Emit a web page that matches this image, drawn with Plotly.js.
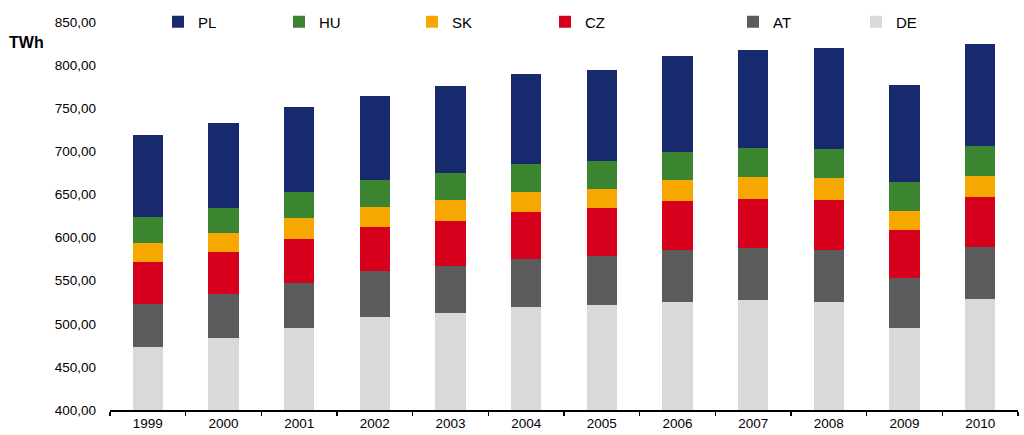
<!DOCTYPE html>
<html>
<head>
<meta charset="utf-8">
<script src="https://cdn.plot.ly/plotly-3.0.1.min.js"></script>
<style>html,body{margin:0;padding:0;background:#fff;}#chart{width:1024px;height:435px;}</style>
</head>
<body>
<div id="chart"></div>
<script>
var years = ["1999","2000","2001","2002","2003","2004","2005","2006","2007","2008","2009","2010"];
var DE = [473.4,483.4,494.7,508.2,512.8,519.4,521.3,525.5,527.1,525.5,495.4,528.3];
var AT = [49.4,50.7,52.5,53.3,54.4,55.9,57.2,59.9,60.6,59.6,57.6,60.9];
var CZ = [48.7,49.4,51.3,50.6,52.2,54.2,55.6,56.8,57.2,58.6,55.6,58.0];
var SK = [22.4,22.0,24.4,23.5,23.6,23.5,22.4,24.3,25.1,24.8,22.4,24.0];
var HU = [29.8,29.0,29.7,31.7,31.3,32.5,32.1,32.5,33.3,33.9,33.2,35.0];
var PL = [95.8,98.9,98.9,96.6,101.2,104.4,105.4,111.6,114.6,117.5,112.8,118.1];

var seriesNames = ["DE","AT","CZ","SK","HU","PL"];
var seriesData = [DE,AT,CZ,SK,HU,PL];
var colors = {PL:"#182a6e",HU:"#3b8530",SK:"#f7a800",CZ:"#d6001c",AT:"#5b5b5b",DE:"#d9d9d9"};
// legend symbol centre pixel positions
var legendPos = {PL:185,HU:306,SK:439,CZ:572,AT:760,DE:883};
var legendOrder = ["PL","HU","SK","CZ","AT","DE"];

var traces = seriesNames.map(function(n,i){
  var li = legendOrder.indexOf(n);
  return {
    type:"bar", name:n, x:years, y:seriesData[i],
    marker:{color:colors[n], line:{width:0}},
    legend: li===0 ? "legend" : "legend"+(li+1),
    hoverinfo:"x+y+name"
  };
});

var font = {family:"Liberation Sans, Arial, sans-serif", color:"#000"};
var layout = {
  width:1024, height:435,
  margin:{l:110,r:6,t:22,b:25,autoexpand:false},
  paper_bgcolor:"#fff", plot_bgcolor:"#fff",
  barmode:"stack", bargap:0.6,
  font:font,
  separators:",.",
  xaxis:{type:"category", showline:true, linecolor:"#000", linewidth:2,
         ticks:"outside", tickson:"boundaries", ticklen:4, tickwidth:1.5, tickcolor:"#000",
         showgrid:false, zeroline:false, tickfont:{size:13.5, family:font.family, color:"#000"}},
  yaxis:{range:[400,850], dtick:50, tick0:400, tickformat:".2f", showline:false, showgrid:false,
         zeroline:false, ticks:"", ticklabelstandoff:13, tickfont:{size:13.5, family:font.family, color:"#000"}},
  annotations:[{text:"<b>TWh</b>", xref:"paper", yref:"paper", x:-0.1134, y:0.946, xanchor:"left", yanchor:"middle",
                showarrow:false, font:{size:16, family:font.family, color:"#000"}}]
};
legendOrder.forEach(function(n,i){
  var key = i===0 ? "legend" : "legend"+(i+1);
  layout[key] = {orientation:"h", xref:"container", yref:"container",
                 x:(legendPos[n]-27)/1024, y:1-22/435, xanchor:"left", yanchor:"middle",
                 bgcolor:"rgba(0,0,0,0)", font:{size:15, family:font.family, color:"#000"}};
});
layout.showlegend = true;

Plotly.newPlot("chart", traces, layout, {displayModeBar:false, staticPlot:true});
</script>
</body>
</html>
